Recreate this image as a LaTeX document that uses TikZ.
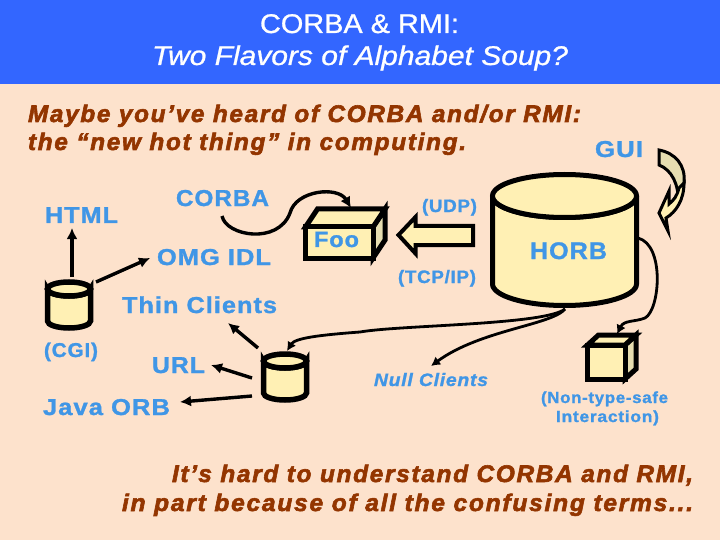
\documentclass[tikz,border=0pt]{standalone}
\usepackage{fontspec}
\usepackage{graphicx}
\setmainfont{Liberation Sans}
\newfontfamily\spaced[LetterSpace=4,FakeBold=1.2]{Liberation Sans}
\newfontfamily\heavy[LetterSpace=7,FakeBold=2.4]{Liberation Sans}
\newfontfamily\titlefont[FakeBold=0.8]{Liberation Sans}
\usetikzlibrary{arrows.meta}
\definecolor{bgpeach}{HTML}{FDE2CC}
\definecolor{band}{HTML}{3366FF}
\definecolor{cream}{HTML}{FFF0B4}
\definecolor{sideface}{HTML}{E6DDB0}
\definecolor{skyblue}{HTML}{4096E6}
\definecolor{rust}{HTML}{933500}
\tikzset{
  solid shape/.style={draw=black,line width=5pt,fill=cream,line join=miter},
  conn/.style={draw=black,line width=3.4pt,-{Latex[length=11pt,width=11pt]}},
  thincurve/.style={draw=black,line width=2.8pt,-{Latex[length=9pt,width=10pt]}},
  lab/.style={anchor=base west,inner sep=0pt,outer sep=0pt},
}
% name, x, baseline, width, size, text
\newcommand{\bluelabel}[6]{\node[lab,text=skyblue] (#1) at (#2,#3) {\resizebox{#4pt}{\height}{\fontsize{#5pt}{#5pt}\selectfont\bfseries\spaced #6}};}
\newcommand{\bluelabelit}[6]{\node[lab,text=skyblue] (#1) at (#2,#3) {\resizebox{#4pt}{\height}{\fontsize{#5pt}{#5pt}\selectfont\bfseries\itshape\spaced #6}};}
\newcommand{\rustline}[6]{\node[lab,text=rust] (#1) at (#2,#3) {\resizebox{#4pt}{\height}{\fontsize{#5pt}{#5pt}\selectfont\bfseries\itshape\heavy #6}};}
% small cylinder: name, centre x, top y
\newcommand{\smallcyl}[3]{%
  \path[solid shape,line width=5.5pt] (#2-21.5,#3+9) -- (#2-21.5,#3+41) arc[start angle=180,end angle=0,x radius=21.5,y radius=7] -- (#2+21.5,#3+9) arc[start angle=0,end angle=180,x radius=21.5,y radius=7] -- cycle;
  \path[solid shape,line width=5.5pt] (#2,#3+9) ellipse[x radius=21.5,y radius=7];
  \coordinate (#1) at (#2,#3+26);}
% box: name, left, top, right, bottom, depth x, depth y
\newcommand{\solidbox}[7]{%
  \path[solid shape,fill=sideface] (#4-#6,#3+#7) -- (#4,#3) -- (#4,#5-#7) -- (#4-#6,#5) -- cycle;
  \path[solid shape] (#2,#3+#7) -- (#2+#6,#3) -- (#4,#3) -- (#4-#6,#3+#7) -- cycle;
  \path[solid shape] (#2,#3+#7) rectangle (#4-#6,#5);
  \coordinate (#1) at (#2/2+#4/2,#3/2+#5/2);}
\begin{document}
\begin{tikzpicture}[x=1pt,y=-1pt]
\useasboundingbox (0,0) rectangle (720,540);
\fill[bgpeach] (0,0) rectangle (720,540);
\fill[band] (0,0) rectangle (720,84);
\node[lab,text=white] (t1) at (260,33) {\resizebox{199pt}{\height}{\fontsize{27pt}{27pt}\selectfont\titlefont CORBA \& RMI:}};
\node[lab,text=white] (t2) at (152,65) {\resizebox{416pt}{\height}{\fontsize{27pt}{27pt}\selectfont\itshape\titlefont Two Flavors of Alphabet Soup?}};

\rustline{m1}{28}{122}{553}{24}{Maybe you’ve heard of CORBA and/or RMI:}
\rustline{m2}{28}{150}{438}{24}{the “new hot thing” in computing.}
\rustline{b1}{172}{482}{521}{24}{It’s hard to understand CORBA and RMI,}
\rustline{b2}{122}{511}{571}{24}{in part because of all the confusing terms...}

% big cylinder
\path[solid shape] (492.5,196) -- (492.5,284) arc[start angle=180,end angle=0,x radius=72,y radius=21.5] -- (636.5,196) arc[start angle=0,end angle=180,x radius=72,y radius=21.5] -- cycle;
\path[solid shape] (564.5,196) ellipse[x radius=72,y radius=21.5];
\coordinate (horbL) at (638,238);
\coordinate (horbB) at (565,309);

\smallcyl{cgi}{69}{280}
\smallcyl{thin}{285}{352}
\solidbox{foo}{305.5}{209}{385}{258}{12}{18}
\solidbox{plain}{587.5}{335}{636}{379}{11}{10}

% block arrow
\path[draw=black,line width=4pt,fill=cream,line join=miter] (398.5,235) -- (415.5,217) -- (415.5,226) -- (473,226) -- (473,245) -- (415.5,245) -- (415.5,253.5) -- cycle;

% GUI curved arrow
\path[draw=black,line width=3pt,fill=sideface,line join=miter] (659,150) .. controls (675,153) and (686,165) .. (684,183) .. controls (683,190) and (681,197) .. (678,202) .. controls (679,185) and (672,170) .. (659,165) -- cycle;
\path[draw=black,line width=3pt,fill=cream,line join=miter] (684,183) .. controls (684,200) and (676,212) .. (666,218) -- (668,231) -- (659,213) -- (669,191) -- (669,204) .. controls (674,200) and (677,196) .. (679,188) -- cycle;

\bluelabel{gui}{595}{157}{48}{23}{GUI}
\bluelabel{corba}{176}{206}{93}{23}{CORBA}
\bluelabel{html}{45}{223}{73}{23}{HTML}
\bluelabel{omg}{157}{265}{114}{23}{OMG IDL}
\bluelabel{thinc}{122}{313}{155}{23}{Thin Clients}
\bluelabel{cgilab}{44}{357}{54}{20}{(CGI)}
\bluelabel{url}{152}{373}{53}{23}{URL}
\bluelabel{java}{43}{415}{127}{23}{Java ORB}
\bluelabel{foot}{314}{247}{45}{22}{Foo}
\bluelabel{udp}{422}{212}{55}{18}{(UDP)}
\bluelabel{tcp}{398}{283}{78}{18}{(TCP/IP)}
\bluelabel{horb}{530}{259}{77}{24}{HORB}
\bluelabelit{null}{374}{386}{114}{18}{Null Clients}
\bluelabel{nt1}{541}{403}{127}{16}{(Non-type-safe}
\bluelabel{nt2}{556}{422}{103}{16}{Interaction)}

% connectors
\coordinate (htmlS) at (72,228);
\coordinate (cgiT) at (72,277);
\coordinate (cgiR) at (96,282);
\coordinate (omgW) at (150,258);
\draw[conn] (cgiT) -- (htmlS);
\draw[conn] (cgiR) -- (omgW);
\coordinate (thinA) at (258,348);
\coordinate (thinB) at (252,378);
\coordinate (thinC) at (252,396);
\coordinate (thincW) at (228,323);
\coordinate (urlE) at (211,365);
\coordinate (javaE) at (180,402);
\draw[conn] (thinA) -- (thincW);
\draw[conn] (thinB) -- (urlE);
\draw[conn] (thinC) -- (javaE);
\coordinate (corbaS) at (222,216);
\coordinate (fooT) at (351,208);
\coordinate (nullT) at (431,366);
\coordinate (thinT) at (287,351);
\coordinate (plainT) at (617,334);
\draw[conn] (corbaS) .. controls (226,236) and (278,245) .. (290,213) .. controls (296,190) and (338,186) .. (fooT);
\draw[thincurve] (horbB) .. controls (552,325) and (480,330) .. (nullT);
\draw[thincurve] (horbB) .. controls (545,325) and (400,325) .. (360,332) .. controls (320,335) and (295,338) .. (thinT);
\draw[thincurve] (horbL) .. controls (665,245) and (660,310) .. (645,318) .. controls (635,322) and (624,320) .. (plainT);
\end{tikzpicture}
\end{document}
